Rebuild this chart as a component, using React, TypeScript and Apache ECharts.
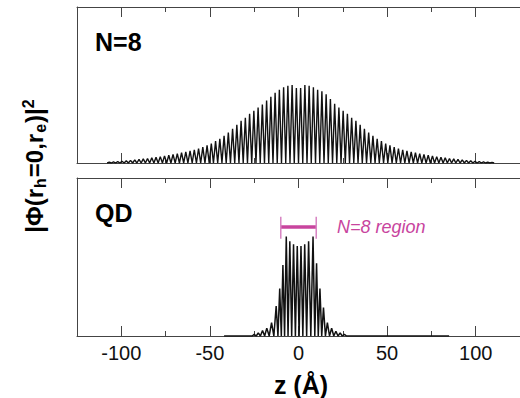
import React, { useEffect, useRef } from "react";
import * as echarts from "echarts";

// ---- data ----
const xMin = -125;
const xMax = 125;
const majorTicks = [-100, -50, 0, 50, 100];
const minorTicks = [-75, -25, 25, 75];

// N=8 panel: oscillation peaks (z in Å, relative |Φ|² height)
const topPeakZ = [
  -106.8, -104.4, -102.0, -99.6, -97.2, -94.8, -92.4, -90.0, -87.6, -85.2,
  -82.8, -80.4, -78.0, -75.6, -73.2, -70.8, -68.4, -66.0, -63.6, -61.2,
  -58.8, -56.4, -54.0, -51.6, -49.2, -46.8, -44.4, -42.0, -39.6, -37.2,
  -34.8, -32.4, -30.0, -27.6, -25.2, -22.8, -20.4, -18.0, -15.6, -13.2,
  -10.8, -8.4, -6.0, -3.6, -1.2,
  1.2, 3.6, 6.0, 8.4, 10.8, 13.2, 15.6, 18.0, 20.4, 22.8,
  25.2, 27.6, 30.0, 32.4, 34.8, 37.2, 39.6, 42.0, 44.4, 46.8,
  49.2, 51.6, 54.0, 56.4, 58.8, 61.2, 63.6, 66.0, 68.4, 70.8,
  73.2, 75.6, 78.0, 80.4, 82.8, 85.2, 87.6, 90.0, 92.4, 94.8,
  97.2, 99.6, 102.0, 104.4, 106.8, 109.2,
];
const topPeakH = [
  0.005, 0.007, 0.009, 0.011, 0.014, 0.017, 0.02, 0.023, 0.026, 0.029,
  0.033, 0.037, 0.041, 0.046, 0.05, 0.055, 0.06, 0.066, 0.072, 0.078,
  0.085, 0.093, 0.102, 0.113, 0.125, 0.14, 0.155, 0.175, 0.195, 0.22,
  0.245, 0.27, 0.29, 0.315, 0.335, 0.355, 0.375, 0.4, 0.425, 0.45,
  0.47, 0.485, 0.495, 0.5, 0.48,
  0.48, 0.5, 0.495, 0.485, 0.47, 0.46, 0.44, 0.41, 0.38, 0.355,
  0.335, 0.315, 0.29, 0.27, 0.245, 0.22, 0.195, 0.175, 0.155, 0.14,
  0.125, 0.113, 0.102, 0.093, 0.085, 0.078, 0.072, 0.066, 0.06, 0.055,
  0.05, 0.046, 0.041, 0.037, 0.033, 0.029, 0.026, 0.023, 0.02, 0.017,
  0.014, 0.011, 0.009, 0.007, 0.005, 0.004,
];

// QD panel
const qdPeakZ = [
  -25.0, -22.7, -20.3, -17.9, -15.2, -12.6, -10.6, -8.8, -6.9, -4.9,
  -2.8, -0.7, 1.4, 3.5, 5.7, 8.2, 10.2, 12.1, 14.1, 16.3, 18.7, 21.1, 23.5, 25.9,
];
const qdPeakH = [
  0.01, 0.02, 0.035, 0.05, 0.085, 0.19, 0.3, 0.45, 0.63, 0.6,
  0.58, 0.57, 0.57, 0.58, 0.6, 0.63, 0.46, 0.3, 0.18, 0.085, 0.05, 0.03, 0.02, 0.01,
];
const qdRange = [-42, 85];

// N=8 region marker
const regionZ = [-10, 10];
const regionLevel = 0.69;
const regionCap = [0.615, 0.755];

// ---- helpers ----
function spikes(z: number[], h: number[], start?: number, end?: number) {
  const out: number[][] = [];
  if (start !== undefined) out.push([start, 0]);
  out.push([z[0] - (z[1] - z[0]) / 2, 0]);
  for (let i = 0; i < z.length; i++) {
    out.push([z[i], h[i]]);
    if (i < z.length - 1) out.push([(z[i] + z[i + 1]) / 2, 0]);
  }
  const n = z.length;
  out.push([z[n - 1] + (z[n - 1] - z[n - 2]) / 2, 0]);
  if (end !== undefined) out.push([end, 0]);
  return out;
}

const AX = "#444";
const FONT = "'Liberation Sans', Arial, Helvetica, sans-serif";

function xAxes(grid: number, labels: boolean) {
  const base = {
    gridIndex: grid,
    type: "value" as const,
    min: xMin,
    max: xMax,
    splitLine: { show: false },
  };
  return [
    {
      ...base,
      position: "bottom",
      axisLine: { show: true, onZero: false, lineStyle: { color: AX, width: 1 } },
      axisTick: { show: true, inside: true, length: 10, customValues: majorTicks, lineStyle: { color: AX, width: 1 } },
      axisLabel: labels
        ? { show: true, customValues: majorTicks, fontSize: 20, color: "#111", fontFamily: FONT, margin: 7 }
        : { show: false },
    },
    {
      ...base,
      position: "bottom",
      axisLine: { show: false, onZero: false },
      axisTick: { show: true, inside: true, length: 5, customValues: minorTicks, lineStyle: { color: AX, width: 1 } },
      axisLabel: { show: false },
    },
    {
      ...base,
      position: "top",
      axisLine: { show: true, onZero: false, lineStyle: { color: AX, width: 1 } },
      axisTick: { show: true, inside: true, length: 10, customValues: majorTicks, lineStyle: { color: AX, width: 1 } },
      axisLabel: { show: false },
    },
    {
      ...base,
      position: "top",
      axisLine: { show: false, onZero: false },
      axisTick: { show: true, inside: true, length: 5, customValues: minorTicks, lineStyle: { color: AX, width: 1 } },
      axisLabel: { show: false },
    },
  ];
}

const MAGENTA = "#c8449e";

export default function App() {
  const ref = useRef<HTMLDivElement>(null);
  useEffect(() => {
    if (!ref.current) return;
    const chart = echarts.init(ref.current, undefined, { renderer: "svg" });
    const lineSeries = (xi: number, yi: number, data: any[], color: string, width: number, z = 2) => ({
      type: "line",
      xAxisIndex: xi,
      yAxisIndex: yi,
      data,
      symbol: "none",
      silent: true,
      z,
      lineStyle: { color, width },
      clip: true,
    });
    chart.setOption({
      animation: false,
      backgroundColor: "#fff",
      grid: [
        { left: 77, top: 7, width: 448, height: 156 },
        { left: 77, top: 178, width: 448, height: 158 },
      ],
      xAxis: [...xAxes(0, false), ...xAxes(1, true)],
      yAxis: [0, 1].map((g) => ({
        gridIndex: g,
        type: "value",
        min: 0,
        max: 1,
        axisLine: { show: true, onZero: false, lineStyle: { color: AX, width: 1 } },
        axisTick: { show: false },
        axisLabel: { show: false },
        splitLine: { show: false },
      })),
      series: [
        lineSeries(0, 0, spikes(topPeakZ, topPeakH), "#111", 1.4),
        lineSeries(4, 1, spikes(qdPeakZ, qdPeakH, qdRange[0], qdRange[1]), "#111", 1.5),
        lineSeries(4, 1, [[regionZ[0], regionLevel], [regionZ[1], regionLevel]], MAGENTA, 3.5, 5),
        lineSeries(4, 1, [[regionZ[0], regionCap[0]], [regionZ[0], regionCap[1]]], "#d783c2", 1.5, 5),
        lineSeries(4, 1, [[regionZ[1], regionCap[0]], [regionZ[1], regionCap[1]]], "#d783c2", 1.5, 5),
      ],
      graphic: [
        {
          type: "text",
          x: 95,
          y: 42,
          style: { text: "N=8", fontSize: 25, fontWeight: "bold", fontFamily: FONT, fill: "#000", align: "left", verticalAlign: "middle" },
        },
        {
          type: "text",
          x: 95,
          y: 213,
          style: { text: "QD", fontSize: 25, fontWeight: "bold", fontFamily: FONT, fill: "#000", align: "left", verticalAlign: "middle" },
        },
        {
          type: "text",
          x: 337,
          y: 227,
          style: { text: "N=8 region", fontSize: 18, fontStyle: "italic", fontFamily: FONT, fill: MAGENTA, align: "left", verticalAlign: "middle" },
        },
        {
          type: "text",
          x: 301,
          y: 385,
          style: { text: "z (Å)", fontSize: 25, fontWeight: "bold", fontFamily: FONT, fill: "#000", align: "center", verticalAlign: "middle" },
        },
        {
          type: "text",
          x: 34,
          y: 166,
          rotation: Math.PI / 2,
          style: {
            text: "{m||Φ(r}{s|h}{m|=0,r}{s|e}{m|)|}{p|2}",
            align: "center",
            verticalAlign: "middle",
            fill: "#000",
            rich: {
              m: { fontSize: 24, fontWeight: "bold", fontFamily: FONT, fill: "#000", lineHeight: 28 },
              s: { fontSize: 16, fontWeight: "bold", fontFamily: FONT, fill: "#000", verticalAlign: "bottom", lineHeight: 16, padding: [16, 1, 0, 1] },
              p: { fontSize: 16, fontWeight: "bold", fontFamily: FONT, fill: "#000", verticalAlign: "top", lineHeight: 16 },
            },
          },
        },
      ],
    });
    return () => chart.dispose();
  }, []);
  return <div ref={ref} style={{ position: "fixed", left: 0, top: 0, width: 520, height: 398 }} />;
}
